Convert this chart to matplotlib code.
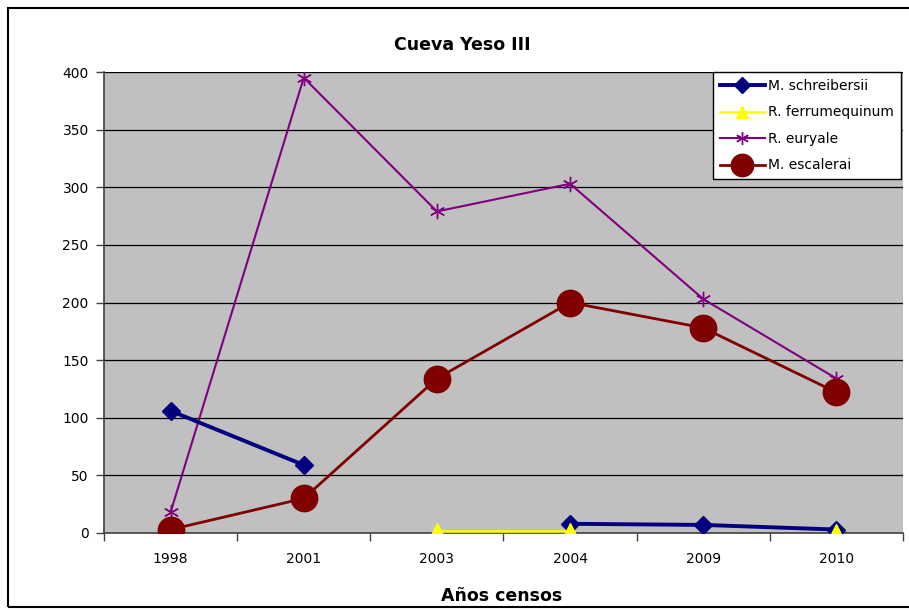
import numpy as np
import matplotlib
matplotlib.use("Agg")
import matplotlib.pyplot as plt
from matplotlib.patches import Rectangle

years = ["1998", "2001", "2003", "2004", "2009", "2010"]
schreibersii = [106, 59, np.nan, 8, 7, 3]
ferrumequinum = [np.nan, np.nan, 2, 2, np.nan, 1]
euryale = [18, 395, 279, 303, 203, 134]
escalerai = [3, 30, 134, 200, 178, 122]

fig = plt.figure(figsize=(9.09, 6.10), dpi=100)
fig.patch.set_facecolor("white")
fig.patches.append(Rectangle((8/909, 3/610), 1.2, 1 - 11/610, transform=fig.transFigure,
                             fill=False, edgecolor="black", linewidth=1.5, zorder=0))

ax = fig.add_axes([104/909, 1 - 533/610, 799/909, 461/610])
ax.set_facecolor("#C0C0C0")
x = np.arange(len(years))

ax.plot(x, schreibersii, color="#000080", lw=2.8, marker="D", ms=9, label="M. schreibersii", zorder=4)
ax.plot(x, ferrumequinum, color="#FFFF00", lw=1.8, marker="^", ms=11, label="R. ferrumequinum", zorder=4)
ax.plot(x, euryale, color="#800080", lw=1.5, marker=(6, 2, 0), ms=11, mew=1.0, label="R. euryale", zorder=3)
ax.plot(x, escalerai, color="#800000", lw=2.0, marker="o", ms=19, label="M. escalerai", zorder=5)

ax.set_xlim(-0.5, len(years) - 0.5)
ax.set_ylim(0, 400)
ax.set_yticks(np.arange(0, 401, 50))
ax.yaxis.grid(True, color="black", lw=0.9)
ax.set_axisbelow(True)
ax.set_xticks(x)
ax.set_xticklabels(years)
ax.set_xticks(np.arange(-0.5, len(years)), minor=True)
ax.tick_params(axis="x", which="major", length=0, pad=14, labelsize=10)
ax.tick_params(axis="x", which="minor", length=6, width=1, color="#404040")
ax.tick_params(axis="y", length=6, width=1, color="#404040", labelsize=10, pad=5)
for s in ["left", "bottom"]:
    ax.spines[s].set_color("#404040")
    ax.spines[s].set_linewidth(1.2)
for s in ["top", "right"]:
    ax.spines[s].set_visible(False)

fig.text(462/909, 1 - 45/610, "Cueva Yeso III", ha="center", va="center",
         fontsize=12.5, fontweight="heavy")
fig.text(502/909, 1 - 596/610, "Años censos", ha="center", va="center",
         fontsize=12.5, fontweight="heavy")

leg = ax.legend(loc="upper right", bbox_to_anchor=(901/909, 1 - 72/610),
                bbox_transform=fig.transFigure, borderaxespad=0, fancybox=False,
                framealpha=1, edgecolor="black", fontsize=10, handlelength=3.2,
                borderpad=0.5, labelspacing=0.9, handletextpad=0.25, markerscale=0.85)
leg.get_frame().set_linewidth(1.0)

fig.savefig("out.png", dpi=100)
